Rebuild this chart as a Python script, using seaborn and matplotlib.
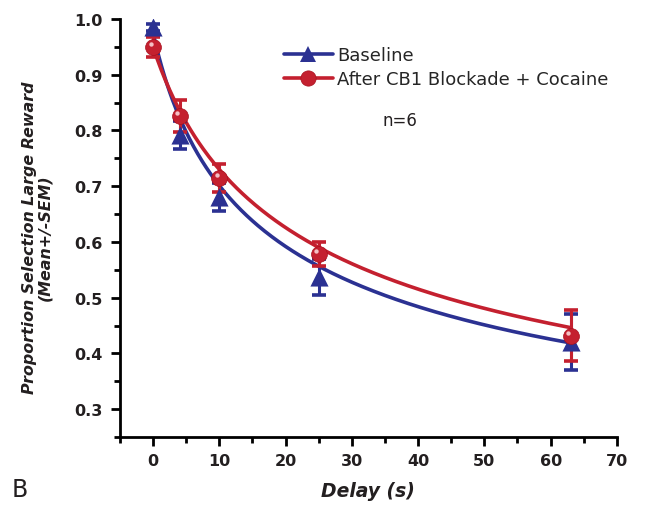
import numpy as np
import pandas as pd
import matplotlib
matplotlib.use("Agg")
import matplotlib.pyplot as plt
from matplotlib.lines import Line2D
from matplotlib.ticker import MultipleLocator
import seaborn as sns

# ---- data ----
delays = [0, 4, 10, 25, 63]
baseline_mean = [0.985, 0.792, 0.680, 0.537, 0.420]
baseline_sem = [0.006, 0.025, 0.025, 0.033, 0.050]
cocaine_mean = [0.950, 0.826, 0.715, 0.578, 0.432]
cocaine_sem = [0.018, 0.028, 0.025, 0.022, 0.046]
series_names = ["Baseline", "After CB1 Blockade + Cocaine"]
# hyperboloid fit parameters  y = A / (1 + k * D) ** s
baseline_fit = dict(A=0.975, k=0.15, s=0.36)
cocaine_fit = dict(A=0.950, k=0.10, s=0.38)
x_ticks = [0, 10, 20, 30, 40, 50, 60, 70]
y_ticks = [0.3, 0.4, 0.5, 0.6, 0.7, 0.8, 0.9, 1.0]

blue = "#2b3192"
red = "#c4202f"
txt = "#231f20"

sns.set_theme(style="white")
plt.rcParams["font.family"] = ["DejaVu Sans"]

fig = plt.figure(figsize=(6.48, 5.10), dpi=100)
ax = fig.add_axes([0.185, 0.141, 0.767, 0.820])

xf = np.linspace(0, 63, 300)
def fit(p):
    return p["A"] / (1 + p["k"] * xf) ** p["s"]

curves = pd.DataFrame({
    "Delay": np.concatenate([xf, xf]),
    "Value": np.concatenate([fit(baseline_fit), fit(cocaine_fit)]),
    "Group": [series_names[0]] * len(xf) + [series_names[1]] * len(xf),
})
sns.lineplot(data=curves, x="Delay", y="Value", hue="Group",
             palette=[blue, red], linewidth=2.6, legend=False, ax=ax,
             zorder=2)

# error bars
ax.errorbar(delays, baseline_mean, yerr=baseline_sem, fmt="none",
            ecolor=blue, elinewidth=2.2, capsize=5, capthick=2.6, zorder=3)
ax.errorbar(delays, cocaine_mean, yerr=cocaine_sem, fmt="none",
            ecolor=red, elinewidth=2.2, capsize=5, capthick=2.6, zorder=4)

pts = pd.DataFrame({
    "Delay": delays * 2,
    "Value": baseline_mean + cocaine_mean,
    "Group": [series_names[0]] * 5 + [series_names[1]] * 5,
})
sns.scatterplot(data=pts[pts.Group == series_names[0]], x="Delay", y="Value",
                marker="^", s=170, color=blue, edgecolor=blue, linewidth=0,
                legend=False, ax=ax, zorder=5)
sns.scatterplot(data=pts[pts.Group == series_names[1]], x="Delay", y="Value",
                marker="o", s=130, color=red, edgecolor="#a8101e", linewidth=0.5,
                legend=False, ax=ax, zorder=6)
# glossy highlight on the red spheres
ax.scatter(np.array(delays) - 0.35, np.array(cocaine_mean) + 0.005, s=10,
           color="#f4c0c4", linewidth=0, zorder=7)

ax.set_xlim(-5, 70)
ax.set_ylim(0.25, 1.0)
ax.set_xticks(x_ticks)
ax.set_yticks(y_ticks)
ax.set_yticklabels([f"{v:.1f}" for v in y_ticks])
ax.xaxis.set_minor_locator(MultipleLocator(5))
ax.yaxis.set_minor_locator(MultipleLocator(0.05))

for s in ["top", "right"]:
    ax.spines[s].set_visible(False)
for s in ["left", "bottom"]:
    ax.spines[s].set_color("black")
    ax.spines[s].set_linewidth(2.0)
ax.tick_params(which="major", direction="out", length=6.5, width=2,
               color="black", labelsize=11.5, left=True, bottom=True)
ax.tick_params(axis="y", which="major", pad=6)
ax.tick_params(axis="x", which="major", pad=5)
ax.tick_params(which="minor", direction="out", length=4, width=2,
               color="black", left=True, bottom=True)
for lab in ax.get_xticklabels() + ax.get_yticklabels():
    lab.set_fontweight("bold")
    lab.set_color(txt)

ax.set_xlabel("Delay (s)", fontsize=13.5, fontweight="bold", style="italic",
              color=txt, labelpad=9)
ax.set_ylabel("Proportion Selection Large Reward\n(Mean+/-SEM)", fontsize=11.4,
              fontweight="bold", style="italic", color=txt,
              linespacing=1.0)
ax.yaxis.set_label_coords(-0.137, 0.48)

handles = [
    Line2D([], [], color=blue, marker="^", markersize=12, linewidth=2.6,
           markeredgewidth=0),
    Line2D([], [], color=red, marker="o", markersize=11, linewidth=2.6,
           markeredgewidth=0.5, markeredgecolor="#a8101e"),
]
ax.legend(handles, series_names, loc="upper left",
          bbox_to_anchor=(0.33, 0.935), frameon=False, fontsize=13,
          handlelength=2.7, handletextpad=0.25, labelspacing=0.35,
          borderaxespad=0, borderpad=0)

ax.text(0.528, 0.746, "n=6", transform=ax.transAxes, fontsize=12,
        color=txt)
fig.text(0.018, 0.025, "B", fontsize=17, color=txt)

ax.set_facecolor("white")
fig.savefig("out.png", dpi=100, facecolor="white")
